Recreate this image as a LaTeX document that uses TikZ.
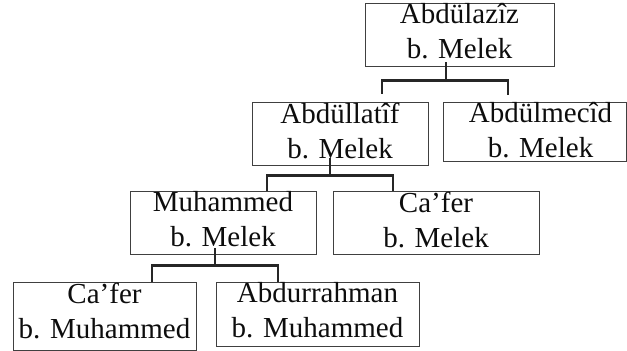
\documentclass[tikz,border=0pt]{standalone}
\usepackage{fontspec}
\setmainfont{Liberation Serif}
\newcommand\gapbelow[1]{\rule[-#1pt]{0pt}{#1pt}}
\begin{document}
\begin{tikzpicture}[x=1pt,y=-1pt,
        person/.style={draw=black!75,line width=0.8pt,inner sep=0pt,align=center,text=black!95,font=\fontsize{29}{35}\selectfont},
        link/.style={draw=black!85,line width=2.9pt}]
        \useasboundingbox(0,0)rectangle(627,351);
        \node[person,minimum width=189pt,minimum height=63pt](azz)at(459.5,34.5){Abdülazîz\\b. Melek\gapbelow{6.2}};
        \node[person,minimum width=176pt,minimum height=63pt](ltf)at(340,133.5){Abdüllatîf\\b. Melek\gapbelow{6.2}};
        \node[person,minimum width=183pt,minimum height=59pt](mcd)at(534.5,131.5){\hspace*{12pt}Abdülmecîd\\\hspace*{12pt}b. Melek\gapbelow{2.2}};
        \node[person,minimum width=186pt,minimum height=63pt](mhm)at(223,222.5){Muhammed\\b. Melek\gapbelow{6.2}};
        \node[person,minimum width=206pt,minimum height=63pt](cfr)at(436,222.5){Ca’fer\\b. Melek\gapbelow{6.2}};
        \node[person,minimum width=183pt,minimum height=68pt](cfm)at(104.5,316){Ca’fer\\b. Muhammed\gapbelow{11.2}};
        \node[person,minimum width=203pt,minimum height=64pt](abr)at(317.5,314){Abdurrahman\\b. Muhammed\gapbelow{7.2}};
        % brackets
        \draw[link]([xshift=-13.5pt,yshift=4pt]azz.south)--([xshift=-13.5pt,yshift=-14pt]azz.south)coordinate(j1);
        \draw[link]([xshift=42pt,yshift=8pt]ltf.north)|-(j1)-|([xshift=-26.5pt,yshift=7pt]mcd.north);
        \draw[link]([xshift=-10pt,yshift=7pt]ltf.south)--([xshift=-10pt,yshift=-10pt]ltf.south)coordinate(j2);
        \draw[link]([xshift=44pt]mhm.north)|-(j2)-|([xshift=-43pt]cfr.north);
        \draw[link]([xshift=-8pt,yshift=6pt]mhm.south)--([xshift=-8pt,yshift=-11pt]mhm.south)coordinate(j3);
        \draw[link]([xshift=47.5pt]cfm.north)|-(j3)-|([xshift=-39.5pt]abr.north);
\end{tikzpicture}
\end{document}
